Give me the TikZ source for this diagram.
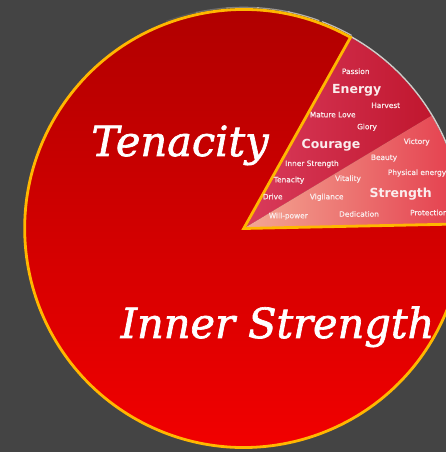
\documentclass[tikz,border=0pt]{standalone}
\usepackage{fontspec}
\setmainfont{DejaVu Sans}
\newfontfamily\bigserif[ItalicFeatures={FakeBold=1.6}]{DejaVu Serif}
\newfontfamily\smallsans[FakeBold=0.6]{DejaVu Sans}
\usetikzlibrary{calc}
\definecolor{bgc}{HTML}{444444}
\definecolor{rimy}{HTML}{FFB700}
\definecolor{rimg}{HTML}{D2CBC8}
\definecolor{txtc}{HTML}{FAEDED}
\tikzset{
  small/.style={font=\fontsize{7.4}{8}\smallsans, text=txtc, inner sep=0pt, anchor=base},
  smallw/.style={small, anchor=base west},
  bold/.style={font=\fontsize{12.5}{14}\selectfont\bfseries, text=txtc, inner sep=0pt, anchor=base},
  big/.style={font=\fontsize{41.5}{44}\bigserif\itshape, text=white, inner sep=0pt, anchor=base}
}
\begin{document}
\begin{tikzpicture}[x=1pt,y=1pt]
\useasboundingbox (0,0) rectangle (446,452);
\fill[bgc] (0,0) rectangle (446,452);
\begin{scope}
\clip (0,0) rectangle (446,452);
\coordinate (C) at (243.7,223.5);
% faint rim at top
\foreach \a/\o in {60.8/0.9,70/0.8,78/0.6,86/0.45,94/0.3,102/0.15}{
  \draw[rimg, line width=1.2pt, opacity=\o] ($(C)+(\a:221.2)$) arc[start angle=\a, end angle=\a+8.5, radius=221.2];
}
% main slice
\shade[top color={rgb,255:red,172;green,0;blue,0}, bottom color={rgb,255:red,246;green,0;blue,0}]
  (C) -- ($(C)+(60.8:219)$) arc[start angle=60.8, end angle=361.2, radius=219] -- cycle;
% wedge upper
\shade[left color={rgb,255:red,218;green,60;blue,92}, right color={rgb,255:red,192;green,22;blue,46}]
  (C) -- ($(C)+(31:219)$) arc[start angle=31, end angle=60.8, radius=219] -- cycle;
% wedge lower
\shade[left color={rgb,255:red,244;green,168;blue,148}, right color={rgb,255:red,228;green,60;blue,76}]
  (C) -- ($(C)+(1.2:219)$) arc[start angle=1.2, end angle=31, radius=219] -- cycle;
% wedge rim
\draw[rimg, line width=1.4pt] ($(C)+(1.2:219.8)$) arc[start angle=1.2, end angle=60.8, radius=219.8];
% yellow outline of main slice
\draw[rimy, line width=2.8pt, line join=miter]
  (C) -- ($(C)+(60.8:219)$) arc[start angle=60.8, end angle=361.2, radius=219] -- cycle;
% labels
\node[small] (passion) at (355.7,378) {Passion};
\node[bold] (energy) at (356.7,358.7) {Energy};
\node[small] (harvest) at (385.7,344) {Harvest};
\node[small] (mature) at (332.7,334.7) {Mature Love};
\node[small] (glory) at (367,322.7) {Glory};
\node[bold] (courage) at (331,303.7) {Courage};
\node[small] (victory) at (416.7,308) {Victory};
\node[small] (inner) at (312,286) {Inner Strength};
\node[small] (beauty) at (384,292) {Beauty};
\node[smallw] (physical) at (387.7,277) {Physical energy};
\node[small] (tenS) at (289,269.7) {Tenacity};
\node[small] (vitality) at (348,271) {Vitality};
\node[bold] (strength) at (400.7,254.7) {Strength};
\node[small] (drive) at (272.7,252.7) {Drive};
\node[small] (vigilance) at (326.7,252.7) {Vigilance};
\node[small] (will) at (288.3,233.7) {Will-power};
\node[small] (dedication) at (359,235.3) {Dedication};
\node[smallw] (protection) at (410,236.7) {Protection};
\node[big] (tenacity) at (180,296) {Tenacity};
\node[big] (innerstrength) at (277.5,114) {Inner Strength};
\end{scope}
\end{tikzpicture}
\end{document}
